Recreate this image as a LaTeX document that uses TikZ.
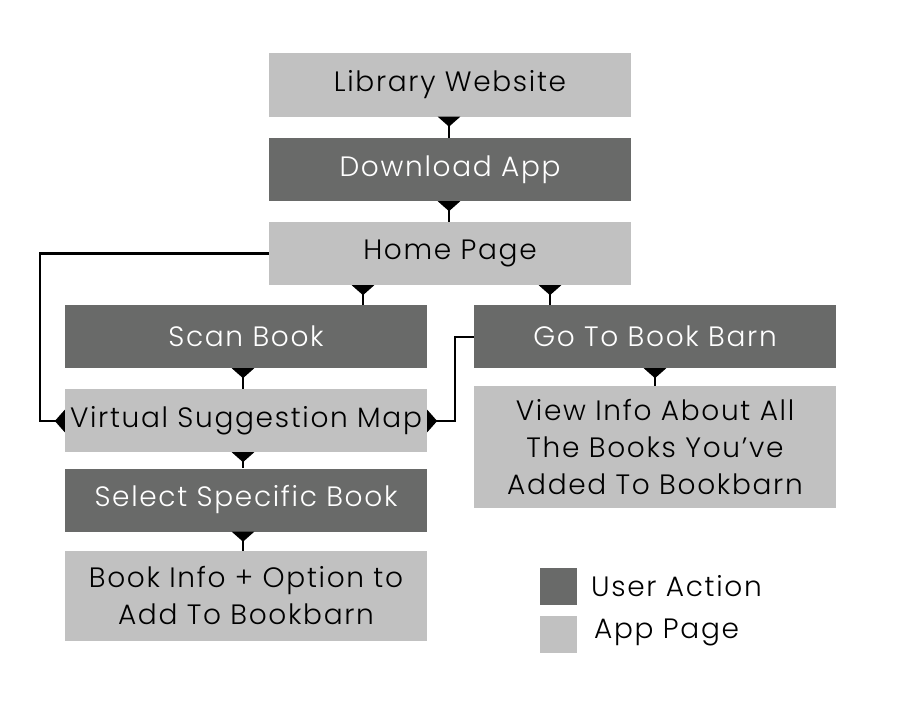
\documentclass[tikz,border=0pt]{standalone}
\usepackage{fontspec}
\setmainfont{Poppins Light}[LetterSpace=6]
\usetikzlibrary{arrows.meta}
\definecolor{darkbox}{HTML}{696A69}
\definecolor{lightbox}{HTML}{C1C1C1}
\begin{document}
\begin{tikzpicture}[x=1pt,y=-1pt,
  box/.style={minimum width=362pt, minimum height=63pt, inner sep=0pt, align=center,
              font=\fontsize{28}{37}\selectfont},
  user/.style={box, fill=darkbox, text=white},
  page/.style={box, fill=lightbox, text=black},
  link/.style={line width=2.6pt, black},
  funnel/.tip={Triangle[reversed, width=22pt, length=10pt]},
  legendbox/.style={minimum width=37pt, minimum height=37pt, inner sep=0pt},
  legendtext/.style={anchor=west, inner sep=0pt, font=\fontsize{28}{37}\selectfont}
]
\useasboundingbox (0,0) rectangle (900,709);

\node[page] (lib) at (450,85) {Library Website};
\node[user] (dl) at (450,169.5) {Download App};
\node[page] (home) at (450,253.5) {Home Page};
\node[user] (scan) at (246,336.5) {Scan Book};
\node[user] (barn) at (655,336.5) {Go To Book Barn};
\node[page] (map) at (246,420.5) {Virtual Suggestion Map};
\node[page, minimum height=122pt] (view) at (655,447) {View Info About All\\The Books You’ve\\Added To Bookbarn};
\node[user] (sel) at (246,500) {Select Specific Book};
\node[page, minimum height=90pt] (info) at (246,596) {Book Info + Option to\\Add To Bookbarn};

\node[legendbox, fill=darkbox] (lu) at (558.5,586.5) {};
\node[legendtext] (lut) at (591,586.5) {User Action};
\node[legendbox, fill=lightbox] (lp) at (558.5,634) {};
\node[legendtext] (lpt) at (594,632) {App Page};

\draw[link, funnel-] (lib.south -| 449,0) -- (dl.north -| 449,0);
\draw[link, funnel-] (dl.south -| 449,0) -- (home.north -| 449,0);
\draw[link, funnel-] (home.south -| 363,0) -- (scan.north -| 363,0);
\draw[link, funnel-] (home.south -| 550,0) -- (barn.north -| 550,0);
\draw[link, funnel-] (scan.south -| 243,0) -- (map.north -| 243,0);
\draw[link, funnel-] (map.south -| 243,0) -- (sel.north -| 243,0);
\draw[link, funnel-] (sel.south -| 243,0) -- (info.north -| 243,0);
\draw[link, funnel-] (barn.south -| 655,0) -- (view.north -| 655,0);

\draw[link, -funnel] (home.west) -- (40,253.5) |- (map.west |- 0,421);
\draw[link, -funnel] (barn.west |- 0,337) -- (455,337) |- (map.east |- 0,421);
\end{tikzpicture}
\end{document}
